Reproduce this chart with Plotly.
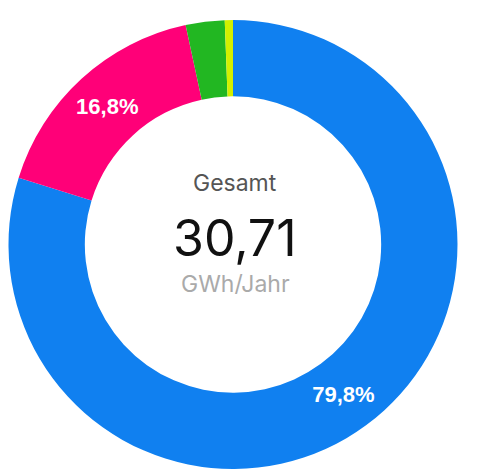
import plotly.graph_objects as go

# Annual energy by source (GWh/year)
sources = ["Quelle A", "Quelle B", "Quelle C", "Quelle D"]
values_gwh = [24.51, 5.16, 0.86, 0.18]
colors = ["#1080f0", "#ff0078", "#22b722", "#d2f000"]
show_label = [True, True, False, False]

total = sum(values_gwh)
total_text = f"{total:.2f}".replace(".", ",")

fig = go.Figure(
    go.Pie(
        labels=sources,
        values=values_gwh,
        hole=0.66,
        sort=False,
        direction="clockwise",
        rotation=0,
        marker=dict(colors=colors, line=dict(width=0)),
        texttemplate=["%{percent:.1%}" if s else "" for s in show_label],
        textposition="inside",
        insidetextorientation="horizontal",
        textfont=dict(family="Liberation Sans", size=22, color="white", weight="bold"),
        showlegend=False,
        domain=dict(x=[8.5 / 485, 457.5 / 485], y=[3 / 472, 452 / 472]),
    )
)

fig.add_annotation(x=0.485, y=1 - 183 / 472, xref="paper", yref="paper", text="Gesamt",
                   showarrow=False, font=dict(family="Inter", size=23, color="#555555"))
fig.add_annotation(x=0.485, y=1 - 238 / 472, xref="paper", yref="paper", text=total_text,
                   showarrow=False, font=dict(family="Inter", size=50, color="#111111"))
fig.add_annotation(x=0.485, y=1 - 284 / 472, xref="paper", yref="paper", text="GWh/Jahr",
                   showarrow=False, font=dict(family="Inter", size=23, color="#aaaaaa"))

fig.update_layout(
    width=485,
    height=472,
    margin=dict(l=0, r=0, t=0, b=0),
    paper_bgcolor="white",
    plot_bgcolor="white",
    separators=",.",
    uniformtext=dict(minsize=22, mode="show"),
)

fig.write_html("out.html")
